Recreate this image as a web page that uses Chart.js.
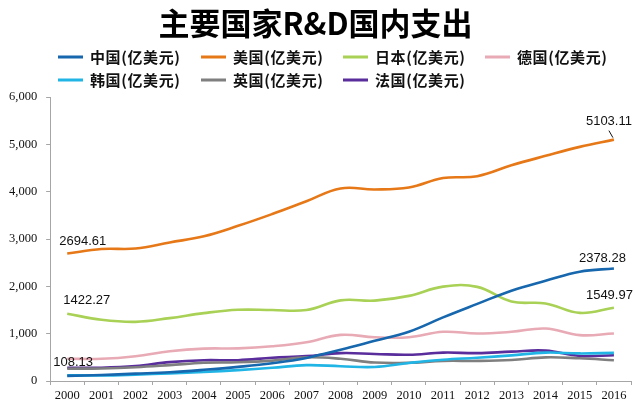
<!DOCTYPE html>
<html>
<head>
<meta charset="utf-8">
<script src="https://cdn.jsdelivr.net/npm/chart.js@4/dist/chart.umd.min.js"></script>
<style>
  html, body { margin: 0; padding: 0; background: #fff; }
  #wrap { width: 635px; height: 410px; }
</style>
</head>
<body>
<div id="wrap"><canvas id="c" width="635" height="410"></canvas></div>
<script>
const titleText = '主要国家R&D国内支出';
const years = ['2000','2001','2002','2003','2004','2005','2006','2007','2008','2009','2010','2011','2012','2013','2014','2015','2016'];
const seriesNames = ['中国(亿美元)','美国(亿美元)','日本(亿美元)','德国(亿美元)','韩国(亿美元)','英国(亿美元)','法国(亿美元)'];
const china   = [108.13, 126, 155, 186, 237, 299, 377, 488, 660, 850, 1043, 1345, 1630, 1910, 2119, 2310, 2378.28];
const usa     = [2694.61, 2790, 2800, 2930, 3060, 3280, 3530, 3800, 4070, 4050, 4090, 4290, 4330, 4560, 4760, 4950, 5103.11];
const japan   = [1422.27, 1295, 1250, 1330, 1435, 1505, 1500, 1500, 1705, 1700, 1800, 1995, 1990, 1680, 1640, 1440, 1549.97];
const germany = [470, 470, 525, 630, 685, 690, 735, 820, 975, 925, 925, 1040, 1005, 1040, 1110, 970, 1005];
const korea   = [122, 118, 135, 160, 190, 230, 280, 335, 313, 297, 380, 450, 492, 542, 600, 583, 595];
const uk      = [260, 265, 290, 335, 385, 395, 430, 500, 470, 390, 385, 425, 425, 445, 500, 480, 440];
const france  = [280, 280, 315, 400, 440, 440, 490, 525, 590, 572, 555, 600, 590, 620, 642, 530, 544];
const yTicks  = [0, 1000, 2000, 3000, 4000, 5000, 6000];

const colors = ['#1667ad', '#e67817', '#a8d155', '#e8aab5', '#21b5e6', '#7f7f7f', '#5a2d9c'];
const allData = [china, usa, japan, germany, korea, uk, france];

// value labels: [datasetIndex, pointIndex, dx(left), dy(center), leader]
const valueLabels = [
  [1, 0, -8, -12, false],
  [2, 0, -4, -13, false],
  [0, 0, -14, -13, false],
  [1, 16, -28, -18, true],
  [0, 16, -35, -10, false],
  [2, 16, -28, -12, false]
];

// legend layout: rows of dataset indices
const legendRows = [[0, 1, 2, 3], [4, 5, 6]];
const legendCols = [58, 201, 343, 485];
const legendRowY = [57, 80];

const customLegend = {
  id: 'customLegend',
  afterDraw(chart) {
    const ctx = chart.ctx;
    ctx.save();
    ctx.font = 'bold 15px "Noto Sans CJK SC"';
    if ('letterSpacing' in ctx) ctx.letterSpacing = '0.6px';
    ctx.textBaseline = 'middle';
    ctx.textAlign = 'left';
    legendRows.forEach((row, r) => {
      row.forEach((di, c) => {
        const ds = chart.data.datasets[di];
        const x = legendCols[c], y = legendRowY[r];
        ctx.fillStyle = ds.borderColor;
        ctx.fillRect(x, y - 1.5, 25, 3);
        ctx.fillStyle = '#111';
        ctx.fillText(ds.label, x + 32, y);
      });
    });
    ctx.restore();
  }
};

const valueLabelPlugin = {
  id: 'valueLabels',
  afterDatasetsDraw(chart) {
    const ctx = chart.ctx;
    const xs = chart.scales.x, ys = chart.scales.y;
    ctx.save();
    ctx.font = '13px "Liberation Sans"';
    ctx.textBaseline = 'middle';
    ctx.textAlign = 'left';
    ctx.fillStyle = '#111';
    valueLabels.forEach(([di, pi, dx, dy, leader]) => {
      const v = chart.data.datasets[di].data[pi];
      const px = xs.getPixelForValue(pi);
      const py = ys.getPixelForValue(v);
      ctx.fillText(v.toFixed(2), px + dx, py + dy);
      if (leader) {
        ctx.strokeStyle = '#111';
        ctx.lineWidth = 1;
        ctx.beginPath();
        ctx.moveTo(px - 5, py - 9);
        ctx.lineTo(px - 1, py - 2);
        ctx.stroke();
      }
    });
    ctx.restore();
  }
};

new Chart(document.getElementById('c'), {
  type: 'line',
  data: {
    labels: years,
    datasets: allData.map((d, i) => ({
      label: seriesNames[i],
      data: d,
      borderColor: colors[i],
      backgroundColor: colors[i],
      borderWidth: 2.6,
      pointRadius: 0,
      tension: 0.4,
      fill: false
    }))
  },
  options: {
    responsive: false,
    animation: false,
    devicePixelRatio: 1,
    layout: { padding: { left: 0, right: 4, top: 0, bottom: 4 } },
    plugins: {
      legend: { display: false },
      tooltip: { enabled: false },
      title: {
        display: true,
        text: titleText,
        color: '#000',
        font: { family: '"Noto Sans CJK SC"', size: 31, weight: 'bold' },
        padding: { top: 5, bottom: 55 }
      }
    },
    scales: {
      x: {
        type: 'category',
        offset: true,
        grid: { display: true, drawOnChartArea: false, drawTicks: true, tickLength: 4, color: '#a6a6a6', offset: true },
        border: { display: true, color: '#a6a6a6', width: 1 },
        ticks: {
          color: '#111',
          font: { family: '"Liberation Serif"', size: 12.5 },
          maxRotation: 0, minRotation: 0, autoSkip: false, padding: 3
        }
      },
      y: {
        min: 0, max: 6000,
        afterBuildTicks(scale) { scale.ticks = yTicks.map(v => ({ value: v })); },
        grid: { display: true, drawOnChartArea: false, drawTicks: true, tickLength: 4, color: '#a6a6a6' },
        border: { display: true, color: '#a6a6a6', width: 1 },
        ticks: {
          color: '#111',
          font: { family: '"Liberation Serif"', size: 12.5 },
          padding: 9,
          callback: v => v.toLocaleString('en-US')
        }
      }
    }
  },
  plugins: [customLegend, valueLabelPlugin]
});
</script>
</body>
</html>
